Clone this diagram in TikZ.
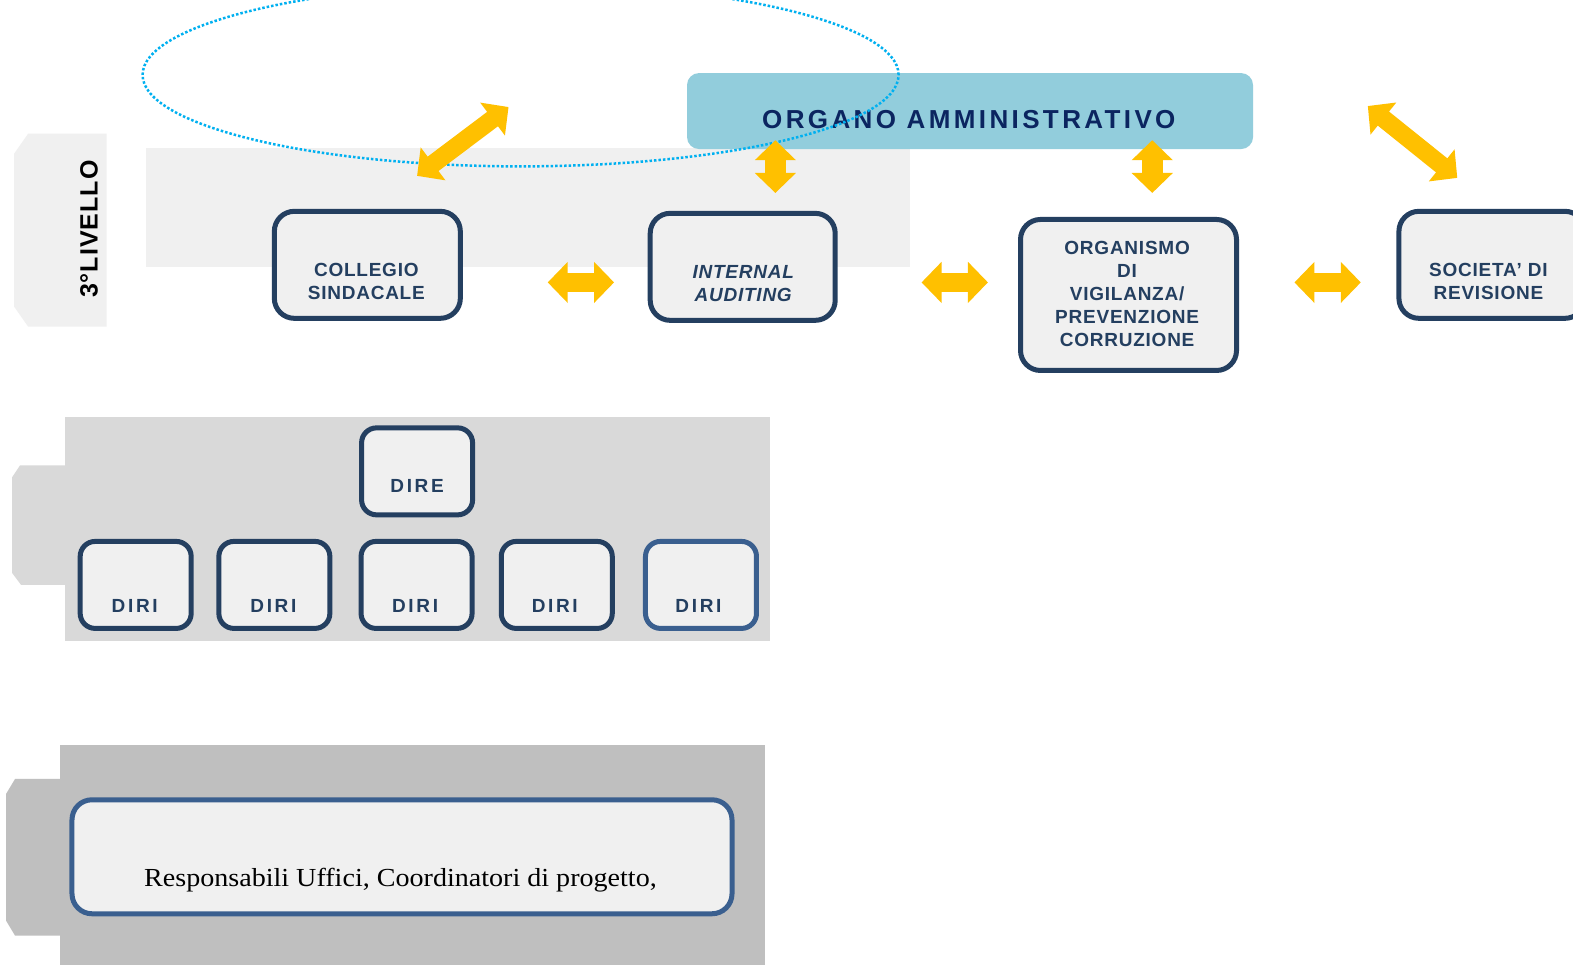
\documentclass[tikz,border=0pt]{standalone}
\usepackage{fontspec}
\setmainfont{Liberation Serif}
\newfontfamily\lblfont[LetterSpace=4]{Liberation Sans}
\newfontfamily\dirfont[LetterSpace=14]{Liberation Sans}
\newfontfamily\orgfont[LetterSpace=13]{Liberation Sans}
\newfontfamily\livfont[LetterSpace=4]{Liberation Sans}
\newfontfamily\respfont[FakeStretch=1.08]{Liberation Serif}
\usetikzlibrary{arrows.meta}
\definecolor{navy}{HTML}{243F60}
\definecolor{navytext}{HTML}{243F60}
\definecolor{orgtext}{HTML}{0B2560}
\definecolor{orgfill}{HTML}{92CDDC}
\definecolor{ayellow}{HTML}{FFC000}
\definecolor{ellblue}{HTML}{00B0F0}
\definecolor{bandA}{HTML}{F0F0F0}
\definecolor{bandB}{HTML}{D9D9D9}
\definecolor{bandC}{HTML}{BFBFBF}
\definecolor{boxfill}{HTML}{F0F0F0}
\definecolor{lightnavy}{HTML}{3A5F8F}
\tikzset{
  bigbox/.style={draw=navy, line width=5bp, fill=boxfill, rounded corners=20bp, inner sep=0pt},
  smallbox/.style={draw=navy, line width=5bp, fill=boxfill, rounded corners=15bp, inner sep=0pt, minimum width=111bp, minimum height=87bp},
  lbl/.style={inner sep=0pt, align=center, text=navytext, font=\lblfont\fontsize{19bp}{23bp}\selectfont\bfseries},
  dirlbl/.style={inner sep=0pt, text=navytext, font=\dirfont\fontsize{19bp}{23bp}\selectfont\bfseries},
  yarrow/.style={draw=ayellow, line cap=butt, {Triangle[width=40bp,length=20bp]}-{Triangle[width=40bp,length=20bp]}},
}
\begin{document}
\begin{tikzpicture}[x=1.005bp,y=-1.005bp]
\clip (0,0) rectangle (1565.17,959.2);
\fill[white] (0,0) rectangle (1565.17,959.2);
% 3rd level band
\fill[bandA] (145,147) rectangle (905,266);
\fill[bandA] (28,133) -- (106,133) -- (106,325) -- (28,325) -- (14,305) -- (14,153) -- cycle;
\node[rotate=90, inner sep=0pt, font=\livfont\fontsize{25bp}{28bp}\selectfont\bfseries] (liv) at (88.5,228) {3°LIVELLO};
% middle band
\fill[bandB] (65,415) rectangle (766,638);
\fill[bandB] (20,463) -- (66,463) -- (66,582) -- (21,582) -- (12,570) -- (12,475) -- cycle;
% bottom band
\fill[bandC] (60,741) rectangle (761,964);
\fill[bandC] (15,775) -- (61,775) -- (61,931) -- (15,931) -- (6,916) -- (6,790) -- cycle;

% top boxes
\node[fill=orgfill, rounded corners=12bp, minimum width=566bp, minimum height=76bp, inner sep=0pt] (org) at (965.2,110.5) {};
\node[inner sep=0pt, text=orgtext, font=\orgfont\fontsize{26bp}{28bp}\selectfont\bfseries] (orgt) at (964,118.5) {ORGANO AMMINISTRATIVO};

\node[bigbox, minimum width=186bp, minimum height=107bp] (coll) at (365.5,263.5) {};
\node[lbl] (collt) at (364.5,280) {COLLEGIO\\SINDACALE};
\node[bigbox, minimum width=185bp, minimum height=107bp] (inta) at (739,265.5) {};
\node[lbl, font=\lblfont\fontsize{19bp}{23bp}\selectfont\bfseries\itshape] (intat) at (739.5,282) {INTERNAL\\AUDITING};
\node[bigbox, minimum width=216bp, minimum height=151bp] (odv) at (1122.9,293.5) {};
\node[lbl] (odvt) at (1121.5,292.5) {ORGANISMO\\DI\\VIGILANZA/\\PREVENZIONE\\CORRUZIONE};
\node[bigbox, minimum width=186bp, minimum height=107bp] (soc) at (1484.5,263.5) {};
\node[lbl] (soct) at (1481,280) {SOCIETA’ DI\\REVISIONE};

% middle boxes
\node[smallbox] (dire) at (415,469) {};
\node[dirlbl] (diret) at (415,484) {DIRE};
\node[smallbox] (diri1) at (135,582) {};
\node[smallbox] (diri2) at (273,582) {};
\node[smallbox] (diri3) at (414.5,582) {};
\node[smallbox] (diri4) at (554,582) {};
\node[smallbox, draw=lightnavy] (diri5) at (697.5,582) {};
\node[dirlbl] (diri1t) at (134,603) {DIRI};
\node[dirlbl] (diri2t) at (272,603) {DIRI};
\node[dirlbl] (diri3t) at (413,603) {DIRI};
\node[dirlbl] (diri4t) at (552,603) {DIRI};
\node[dirlbl] (diri5t) at (695,603) {DIRI};

% bottom box
\node[draw=lightnavy, line width=5bp, fill=boxfill, rounded corners=20bp, minimum width=660bp, minimum height=114bp, inner sep=0pt] (resp) at (400,852.5) {};
\node[inner sep=0pt, anchor=base, font=\respfont\fontsize{26bp}{28bp}\selectfont] (respt) at (398.5,882.5) {Responsabili Uffici, Coordinatori di progetto,};

% dotted ellipse
\draw[ellblue, line width=2.5bp, dash pattern=on 2.5bp off 2bp] (518,74.5) ellipse [x radius=378bp, y radius=91.5bp];

% yellow block arrows
\coordinate (h1a) at (545,281); \coordinate (h1b) at (611,281);
\coordinate (h2a) at (917,281); \coordinate (h2b) at (983,281);
\coordinate (h3a) at (1288,281); \coordinate (h3b) at (1354,281);
\coordinate (v1a) at (771.5,139.5); \coordinate (v1b) at (771.5,192);
\coordinate (v2a) at (1146.5,139.5); \coordinate (v2b) at (1146.5,192);
\coordinate (d1a) at (415,175); \coordinate (d1b) at (506,106.5);
\coordinate (d2a) at (1361,105.5); \coordinate (d2b) at (1450,177);
\draw[yarrow, line width=19bp] (h1a) -- (h1b);
\draw[yarrow, line width=19bp] (h2a) -- (h2b);
\draw[yarrow, line width=19bp] (h3a) -- (h3b);
\draw[yarrow, line width=21bp] (v1a) -- (v1b);
\draw[yarrow, line width=21bp] (v2a) -- (v2b);
\draw[yarrow, line width=18bp] (d1a) -- (d1b);
\draw[yarrow, line width=18bp] (d2a) -- (d2b);
\end{tikzpicture}
\end{document}
